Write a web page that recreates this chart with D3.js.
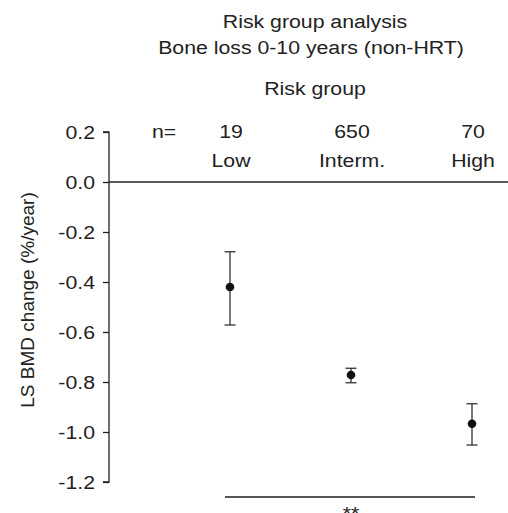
<!DOCTYPE html>
<html>
<head>
<meta charset="utf-8">
<script src="https://cdn.jsdelivr.net/npm/d3@7"></script>
<style>
  body { margin: 0; background: #fff; }
  text { font-family: "Liberation Sans", Arial, sans-serif; fill: #222; }
</style>
</head>
<body>
<div id="chart"></div>
<script>
// data
const groups   = ["Low", "Interm.", "High"];
const counts   = [19, 650, 70];
const means    = [-0.42, -0.772, -0.967];
const upper    = [-0.279, -0.745, -0.887];
const lower    = [-0.572, -0.803, -1.052];
const yTicks   = [0.2, 0.0, -0.2, -0.4, -0.6, -0.8, -1.0, -1.2];

const W = 508, H = 513;
const axisX = 109;
const fs = 19;
const sx = 1.12;   // the original type is a bit wider than Liberation Sans

const svg = d3.select("#chart").append("svg")
  .attr("width", W).attr("height", H);

const y = d3.scaleLinear().domain([0.2, -1.2]).range([132, 482]);
const x = d3.scalePoint().domain(groups).range([230, 472]);

// horizontal text, widened slightly
const txt = (px, py, s, anchor) =>
  svg.append("text")
    .attr("transform", "translate(" + px + "," + py + ") scale(" + sx + ",1)")
    .attr("text-anchor", anchor || "middle")
    .style("font-size", fs + "px")
    .text(s);

// y axis
const yAxis = d3.axisLeft(y)
  .tickValues(yTicks)
  .tickSize(6)
  .tickFormat(d => d3.format(".1f")(d).replace("−", "-"));

const gy = svg.append("g")
  .attr("transform", "translate(" + axisX + ",0)")
  .call(yAxis);
gy.select(".domain").attr("stroke", "#222").attr("stroke-width", 1.3)
  .attr("d", "M-6," + y(0.2) + "H0V" + y(-1.2) + "H-6");
gy.selectAll(".tick line").attr("stroke", "#222").attr("stroke-width", 1.3);
gy.selectAll(".tick text")
  .style("font-size", fs + "px")
  .attr("fill", "#222")
  .attr("x", -14 / sx)
  .attr("transform", "scale(" + sx + ",1)");

// zero line
svg.append("line")
  .attr("x1", axisX).attr("x2", W)
  .attr("y1", y(0)).attr("y2", y(0))
  .attr("stroke", "#222").attr("stroke-width", 1.3);

// y label
svg.append("text")
  .attr("transform", "translate(34,300) rotate(-90)")
  .attr("text-anchor", "middle")
  .style("font-size", fs + "px")
  .text("LS BMD change (%/year)");

// titles
txt(315, 28, "Risk group analysis");
txt(311, 54, "Bone loss 0-10 years (non-HRT)");
txt(315, 95, "Risk group");
txt(164, 138, "n=");

groups.forEach((g, i) => {
  txt(x(g) + 1, 138, counts[i]);
  txt(x(g) + 1, 167, g);
});

// error bars
const eb = svg.selectAll(".eb").data(groups).enter().append("g").attr("class", "eb");
eb.append("line")
  .attr("x1", d => x(d)).attr("x2", d => x(d))
  .attr("y1", (d, i) => y(upper[i])).attr("y2", (d, i) => y(lower[i]))
  .attr("stroke", "#333").attr("stroke-width", 1.3);
eb.append("line")
  .attr("x1", d => x(d) - 5.5).attr("x2", d => x(d) + 5.5)
  .attr("y1", (d, i) => y(upper[i])).attr("y2", (d, i) => y(upper[i]))
  .attr("stroke", "#333").attr("stroke-width", 1.3);
eb.append("line")
  .attr("x1", d => x(d) - 5.5).attr("x2", d => x(d) + 5.5)
  .attr("y1", (d, i) => y(lower[i])).attr("y2", (d, i) => y(lower[i]))
  .attr("stroke", "#333").attr("stroke-width", 1.3);
eb.append("circle")
  .attr("cx", d => x(d)).attr("cy", (d, i) => y(means[i]))
  .attr("r", 4.3).attr("fill", "#111");

// significance bar
svg.append("line")
  .attr("x1", x("Low") - 5).attr("x2", x("High") + 3)
  .attr("y1", 497).attr("y2", 497)
  .attr("stroke", "#555").attr("stroke-width", 1.8);
txt(x("Interm."), 520, "**");
</script>
</body>
</html>
